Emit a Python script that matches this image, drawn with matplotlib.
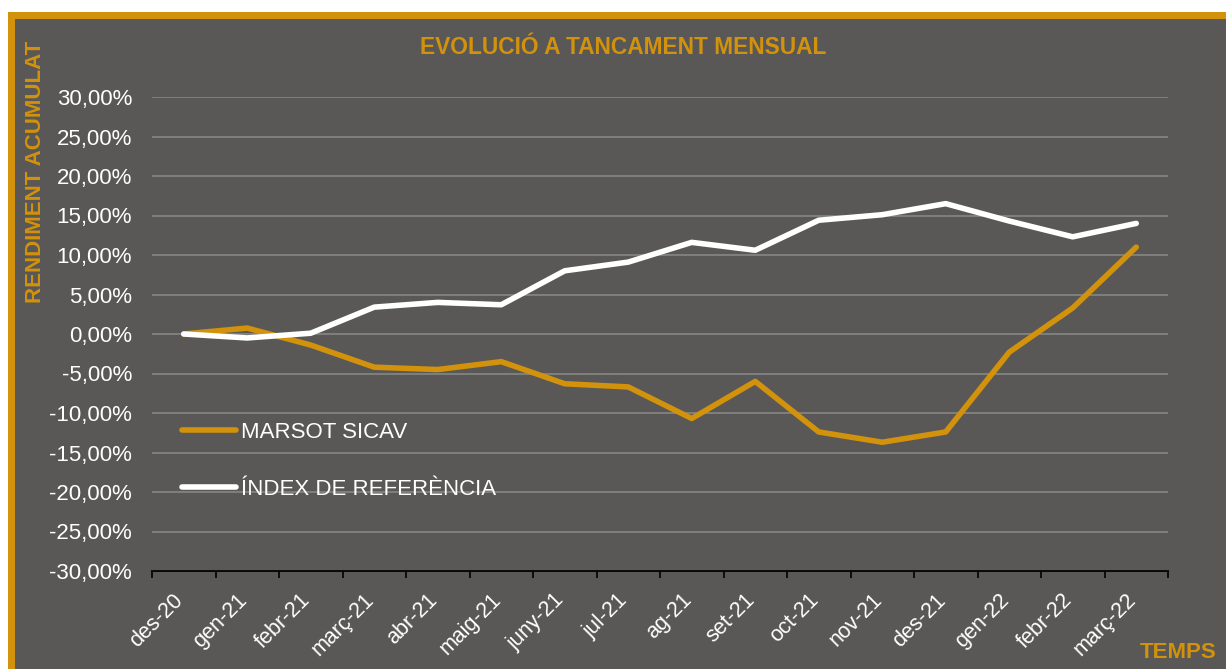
import matplotlib
matplotlib.use("Agg")
import matplotlib.pyplot as plt
from matplotlib.patches import Rectangle
from matplotlib.ticker import FuncFormatter, FixedLocator
import matplotlib.transforms as mtransforms

months = ["des-20", "gen-21", "febr-21", "març-21", "abr-21", "maig-21", "juny-21",
          "jul-21", "ag-21", "set-21", "oct-21", "nov-21", "des-21", "gen-22",
          "febr-22", "març-22"]
marsot = [0.0, 0.75, -1.4, -4.2, -4.5, -3.5, -6.3, -6.7, -10.7, -6.0, -12.4,
          -13.7, -12.4, -2.3, 3.3, 11.0]
index_ref = [0.0, -0.5, 0.1, 3.4, 4.0, 3.7, 8.0, 9.1, 11.6, 10.6, 14.4, 15.1,
             16.5, 14.3, 12.3, 14.0]
series_names = ["MARSOT SICAV", "ÍNDEX DE REFERÈNCIA"]
title = "EVOLUCIÓ A TANCAMENT MENSUAL"
ylabel = "RENDIMENT ACUMULAT"
xlabel = "TEMPS"
yticks = [-30, -25, -20, -15, -10, -5, 0, 5, 10, 15, 20, 25, 30]

ORANGE = "#D2920C"
BG = "#595856"
GRID = "#8A8A8A"

plt.rcParams['font.family'] = ['Liberation Sans', 'DejaVu Sans']

W, H = 1226, 669
fig = plt.figure(figsize=(W / 100, H / 100), dpi=100)
fig.patch.set_facecolor("white")

bg = fig.add_axes([0, 0, 1, 1], zorder=0)
bg.set_axis_off()
bg.set_xlim(0, W)
bg.set_ylim(0, H)
bg.add_patch(Rectangle((8, 0), W - 8, H - 12, facecolor=ORANGE, edgecolor="none"))
bg.add_patch(Rectangle((15, 0), W - 15, H - 19, facecolor=BG, edgecolor="none"))

ax = fig.add_axes([152 / W, 1 - 571 / H, (1168 - 152) / W, (571 - 97) / H], zorder=2)
ax.set_facecolor("none")
x = list(range(len(months)))
ax.plot(x, marsot, color=ORANGE, lw=4.0, solid_capstyle="round", solid_joinstyle="round",
        label=series_names[0], zorder=3)
ax.plot(x, index_ref, color="white", lw=4.0, solid_capstyle="round", solid_joinstyle="round",
        label=series_names[1], zorder=4)

ax.set_xlim(-0.5, len(months) - 0.5)
ax.set_ylim(-30, 30)
ax.set_yticks(yticks)
ax.yaxis.set_major_formatter(FuncFormatter(lambda v, p: f"{v:.2f}%".replace(".", ",")))
ax.yaxis.grid(True, color=GRID, lw=1.1)
ax.set_axisbelow(True)
ax.tick_params(axis="y", length=0, pad=14.4, labelsize=16, labelcolor="white")

ax.set_xticks(x)
ax.set_xticklabels(months, rotation=45, ha="right", va="top", fontsize=15.5, color="white")
ax.xaxis.set_minor_locator(FixedLocator([i - 0.5 for i in range(len(months) + 1)]))
ax.tick_params(axis="x", which="major", length=0, pad=13.5)
ax.tick_params(axis="x", which="minor", length=5, width=1.2, color="black", direction="out")
offset = mtransforms.ScaledTranslation(4 / 100, 0, fig.dpi_scale_trans)
for lab in ax.get_xticklabels():
    lab.set_transform(lab.get_transform() + offset)

for s in ["top", "right", "left"]:
    ax.spines[s].set_visible(False)
ax.spines["bottom"].set_color("black")
ax.spines["bottom"].set_linewidth(1.3)

leg = ax.legend(loc="upper left", bbox_to_anchor=((182 - 152) / 1016, (571 - 422) / 474),
                frameon=False, fontsize=16, labelcolor="white", handlelength=2.45,
                handletextpad=0.2, labelspacing=1.6, borderpad=0, borderaxespad=0)

fig.text(623 / W, 1 - 47 / H, title, color=ORANGE, fontsize=16.4, fontweight="bold",
         ha="center", va="center", zorder=3)
fig.text(36 / W, 1 - 172 / H, ylabel, color=ORANGE, fontsize=16, fontweight="bold",
         ha="center", va="center", rotation=90, zorder=3)
fig.text(1178 / W, 1 - 653 / H, xlabel, color=ORANGE, fontsize=16, fontweight="bold",
         ha="center", va="center", zorder=3)

fig.savefig("out.png", dpi=100, facecolor=fig.get_facecolor())
